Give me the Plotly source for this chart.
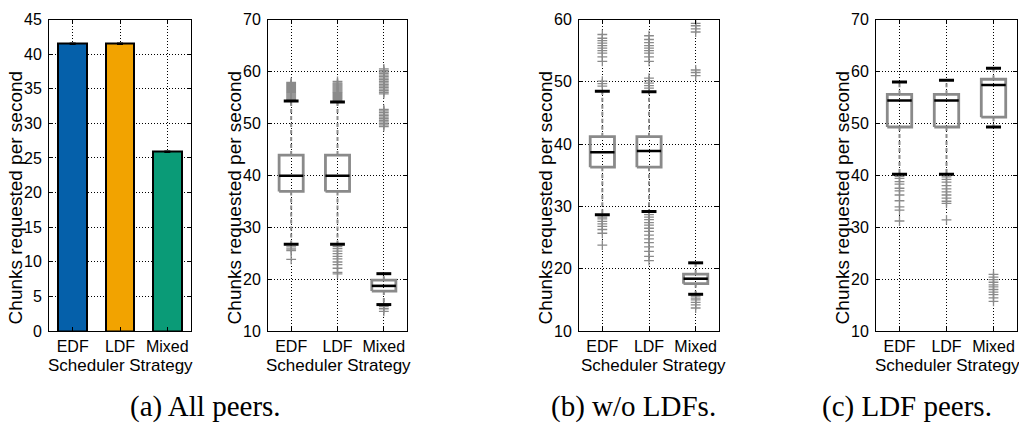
import plotly.graph_objects as go

# ---------------- data ----------------
categories = ["EDF", "LDF", "Mixed"]
positions = [1, 2, 3]

# (a) left: mean chunks per second
bar_values = [41.5, 41.5, 25.9]
bar_errors = [0.08, 0.08, 0.08]
bar_colors = ["#0560AA", "#F2A300", "#0A9B77"]

# (a) right: all peers box stats
all_q1 = [36.9, 36.9, 17.7]
all_median = [39.9, 39.9, 18.7]
all_q3 = [43.9, 43.9, 19.8]
all_low = [26.7, 26.7, 15.1]
all_high = [54.3, 54.1, 21.05]
all_fliers = [
    [54.5, 54.7, 54.9, 55.1, 55.3, 55.5, 55.7, 55.9, 56.1, 56.3, 56.5, 56.7,
     56.9, 57.1, 57.3, 57.5, 57.7, 57.9, 26.2, 25.8, 25.5, 23.8],
    [54.4, 54.6, 54.8, 55.0, 55.2, 55.4, 55.6, 55.8, 56.0, 56.2, 56.4, 56.6,
     56.8, 57.0, 57.2, 57.4, 57.6, 57.8, 58.1, 26.3, 25.9, 25.4, 24.9, 24.4,
     23.9, 23.3, 22.8, 22.1, 21.3, 21.0],
    [55.7, 56.0, 56.3, 56.6, 56.9, 57.2, 57.5, 57.8, 58.1, 58.4, 58.7, 59.0,
     59.3, 59.6, 59.9, 60.2, 60.5, 49.4, 49.7, 50.0, 50.3, 50.6, 50.9, 51.2,
     51.5, 51.8, 52.1, 52.4, 52.7, 14.7, 14.3, 13.8],
]

# (b) w/o LDFs box stats
wo_q1 = [36.3, 36.3, 17.6]
wo_median = [38.7, 38.9, 18.4]
wo_q3 = [41.2, 41.2, 19.15]
wo_low = [28.65, 29.2, 15.9]
wo_high = [48.5, 48.4, 20.95]
wo_fliers = [
    [49.3, 49.7, 50.1, 53.3, 54.0, 54.6, 55.0, 55.4, 55.8, 56.2, 56.6, 57.0,
     57.6, 28.3, 28.0, 27.6, 27.2, 26.8, 26.3, 25.7, 23.8],
    [49.0, 49.4, 49.8, 50.2, 50.6, 53.3, 54.0, 54.6, 55.0, 55.4, 55.8, 56.3,
     56.8, 57.4, 28.7, 28.3, 27.9, 27.4, 27.0, 26.5, 26.0, 25.4, 24.8, 24.2,
     23.5, 22.8, 22.0, 21.3],
    [58.0, 58.5, 59.0, 59.4, 51.0, 51.5, 51.9, 15.6, 15.3, 15.0, 14.6, 14.2,
     13.7],
]

# (c) LDF peers box stats
ldf_q1 = [49.3, 49.3, 51.2]
ldf_median = [54.4, 54.4, 57.4]
ldf_q3 = [55.6, 55.6, 58.5]
ldf_low = [40.2, 40.2, 49.3]
ldf_high = [57.95, 58.3, 60.6]
ldf_fliers = [
    [39.8, 39.4, 38.8, 38.3, 37.5, 37.0, 36.2, 35.1, 33.9, 33.3, 31.2],
    [39.7, 39.2, 38.7, 38.0, 37.4, 36.8, 36.2, 35.6, 35.0, 34.6, 31.4],
    [20.9, 20.4, 19.9, 19.4, 18.9, 18.5, 18.0, 17.5, 17.0, 16.4, 15.7],
]

y_title = "Chunks requested per second"
x_title = "Scheduler Strategy"
captions = ["(a) All peers.", "(b) w/o LDFs.", "(c) LDF peers."]

# ---------------- styles ----------------
W, H = 1019, 441
GRAY = "#8a8a8a"
BOX_HALF = 0.26
CAP_HALF = 0.16
SANS = "Liberation Sans, Arial, sans-serif"
SERIF = "Liberation Serif, Times New Roman, serif"

fig = go.Figure()

# bar panel
fig.add_trace(go.Bar(
    x=positions, y=bar_values, width=0.6,
    marker=dict(color=bar_colors, line=dict(color="black", width=2)),
    error_y=dict(type="data", array=bar_errors, color="black", thickness=1.2, width=3),
    xaxis="x", yaxis="y", showlegend=False,
))


def add_boxes(q1, med, q3, low, high, fliers, xa, ya):
    wx, wy = [], []
    for p, a, b, lo, hi in zip(positions, q1, q3, low, high):
        wx += [p, p, None, p, p, None]
        wy += [b, hi, None, a, lo, None]
    fig.add_trace(go.Scatter(x=wx, y=wy, mode="lines",
                             line=dict(color=GRAY, width=2, dash="4px,3px"),
                             xaxis=xa, yaxis=ya, showlegend=False, hoverinfo="skip"))
    fx, fy = [], []
    for p, fl in zip(positions, fliers):
        fx += [p] * len(fl)
        fy += fl
    fig.add_trace(go.Scatter(x=fx, y=fy, mode="markers",
                             marker=dict(symbol="cross-thin", size=7,
                                         line=dict(color=GRAY, width=1.3)),
                             xaxis=xa, yaxis=ya, showlegend=False))
    bx, by = [], []
    for p, a, b in zip(positions, q1, q3):
        bx += [p - BOX_HALF, p + BOX_HALF, p + BOX_HALF, p - BOX_HALF, p - BOX_HALF, None]
        by += [a, a, b, b, a, None]
    fig.add_trace(go.Scatter(x=bx, y=by, mode="lines",
                             line=dict(color=GRAY, width=2.8),
                             xaxis=xa, yaxis=ya, showlegend=False, hoverinfo="skip"))
    mx, my = [], []
    for p, m in zip(positions, med):
        mx += [p - BOX_HALF, p + BOX_HALF, None]
        my += [m, m, None]
    fig.add_trace(go.Scatter(x=mx, y=my, mode="lines",
                             line=dict(color="black", width=2.6),
                             xaxis=xa, yaxis=ya, showlegend=False, hoverinfo="skip"))
    cx, cy = [], []
    for p, lo, hi in zip(positions, low, high):
        cx += [p - CAP_HALF, p + CAP_HALF, None, p - CAP_HALF, p + CAP_HALF, None]
        cy += [hi, hi, None, lo, lo, None]
    fig.add_trace(go.Scatter(x=cx, y=cy, mode="lines",
                             line=dict(color="black", width=3),
                             xaxis=xa, yaxis=ya, showlegend=False, hoverinfo="skip"))


add_boxes(all_q1, all_median, all_q3, all_low, all_high, all_fliers, "x2", "y2")
add_boxes(wo_q1, wo_median, wo_q3, wo_low, wo_high, wo_fliers, "x3", "y3")
add_boxes(ldf_q1, ldf_median, ldf_q3, ldf_low, ldf_high, ldf_fliers, "x4", "y4")

# panel pixel layout
x_domains_px = [(49, 191), (268, 407), (579, 719), (876, 1017)]
y_top_px, y_bot_px = 12, 336
y_ranges = [(0, 45), (10, 70), (10, 60), (10, 70)]
y_dticks = [5, 10, 10, 10]
ylabel_x_px = [15, 234, 545, 842]
xlabel_x_px = [120, 338, 653, 947]
caption_x_px = [205, 633, 907]

ydom = [1 - y_bot_px / H, 1 - y_top_px / H]
axis_common = dict(
    showline=True, linecolor="black", linewidth=1, mirror="allticks",
    ticks="inside", ticklen=4, tickcolor="black", tickwidth=1,
    showgrid=True, gridcolor="black", griddash="1px,2px", gridwidth=1,
    zeroline=False, tickfont=dict(family=SANS, size=16, color="black"),
)
for i in range(4):
    sfx = "" if i == 0 else str(i + 1)
    x0, x1 = x_domains_px[i]
    fig.update_layout(**{
        "xaxis" + sfx: dict(axis_common, domain=[x0 / W, x1 / W], range=[0.5, 3.5],
                            tickmode="array", tickvals=positions, ticktext=categories,
                            anchor="y" + sfx, ticklabelstandoff=1),
        "yaxis" + sfx: dict(axis_common, domain=ydom, range=list(y_ranges[i]),
                            dtick=y_dticks[i], tick0=0, anchor="x" + sfx,
                            ticklabelstandoff=3),
    })

annotations = []
for i in range(4):
    annotations.append(dict(text=y_title, x=ylabel_x_px[i] / W, y=1 - 197 / H,
                            xref="paper", yref="paper", textangle=-90, showarrow=False,
                            xanchor="center", yanchor="middle",
                            font=dict(family=SANS, size=19, color="black")))
    annotations.append(dict(text=x_title, x=xlabel_x_px[i] / W, y=1 - 372 / H,
                            xref="paper", yref="paper", showarrow=False,
                            xanchor="center", yanchor="middle",
                            font=dict(family=SANS, size=17, color="black")))
for i in range(3):
    annotations.append(dict(text=captions[i], x=caption_x_px[i] / W, y=1 - 414 / H,
                            xref="paper", yref="paper", showarrow=False,
                            xanchor="center", yanchor="middle",
                            font=dict(family=SERIF, size=29, color="black")))

fig.update_layout(
    width=W, height=H, margin=dict(l=0, r=0, t=0, b=0),
    paper_bgcolor="white", plot_bgcolor="white",
    showlegend=False, annotations=annotations, bargap=0,
)

fig.write_html("out.html")
